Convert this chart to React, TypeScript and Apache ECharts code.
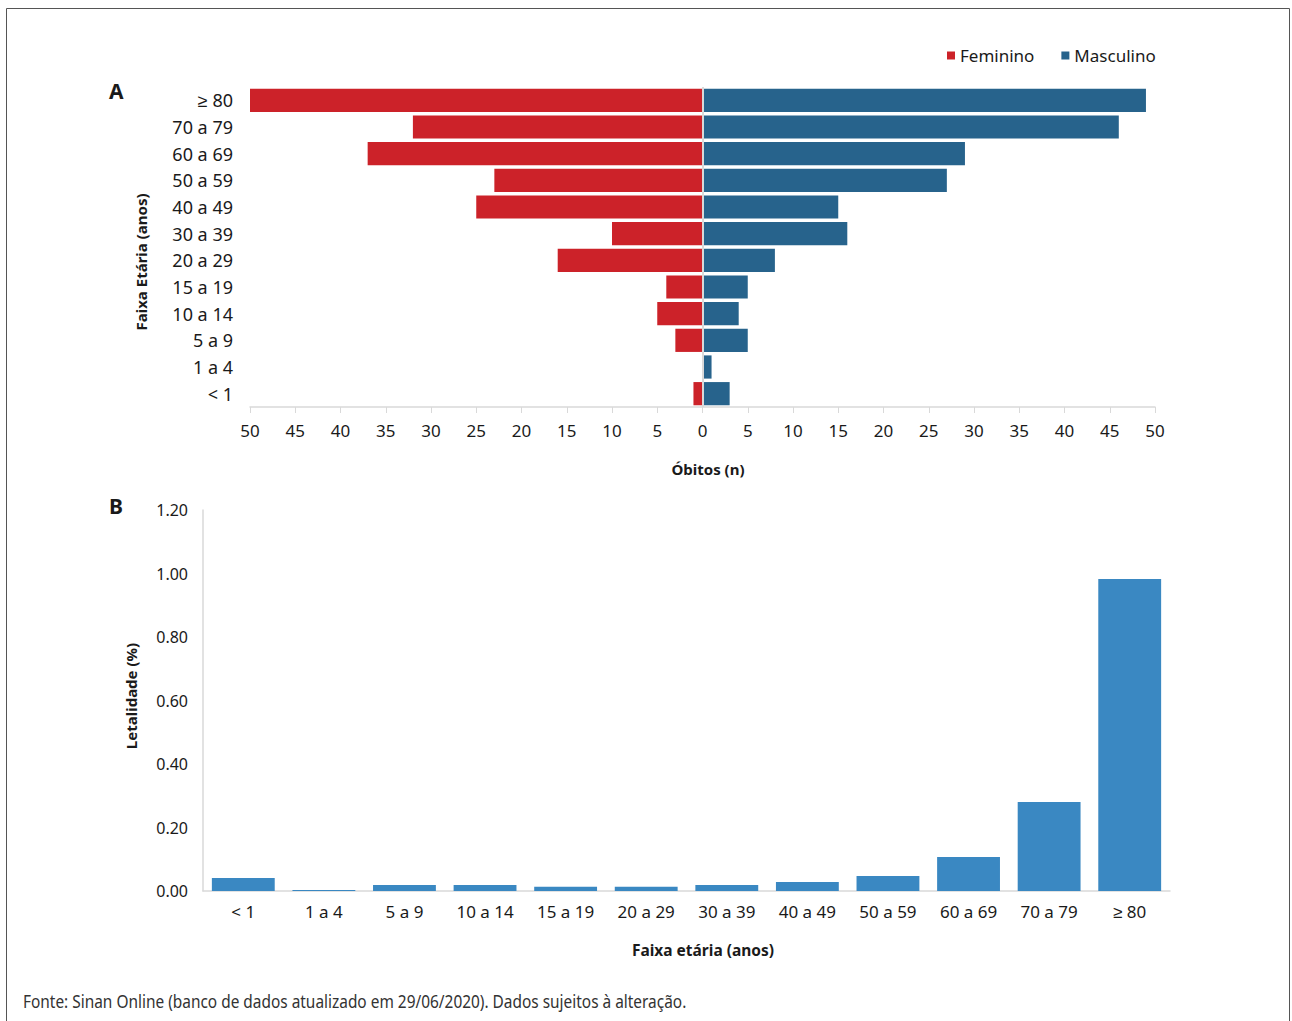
import React, { useEffect, useRef } from "react";
import * as echarts from "echarts";

const ageGroups = ["< 1", "1 a 4", "5 a 9", "10 a 14", "15 a 19", "20 a 29", "30 a 39", "40 a 49", "50 a 59", "60 a 69", "70 a 79", "≥ 80"];
const femaleDeaths = [1, 0, 3, 5, 4, 16, 10, 25, 23, 37, 32, 50];
const maleDeaths = [3, 1, 5, 4, 5, 8, 16, 15, 27, 29, 46, 49];
const lethality = [0.041, 0.003, 0.019, 0.019, 0.013, 0.013, 0.019, 0.028, 0.047, 0.107, 0.28, 0.983];

const RED = "#CC2229";
const DARKBLUE = "#27638C";
const LIGHTBLUE = "#3A88C2";
const AXIS = "#d9d9d9";
const TXT = "#1a1a1a";
const FONT = "'Noto Sans', sans-serif";

export default function App() {
  const ref = useRef<HTMLDivElement>(null);
  useEffect(() => {
    if (!ref.current) return;
    const chart = echarts.init(ref.current, undefined, { renderer: "svg" });
    const nameStyle = { fontSize: 15, fontWeight: "bold", fill: TXT, fontFamily: FONT };
    chart.setOption({
      animation: false,
      backgroundColor: "#ffffff",
      textStyle: { fontFamily: FONT, color: TXT },
      legend: {
        data: ["Feminino", "Masculino"],
        left: 942,
        top: 42,
        itemWidth: 8,
        itemHeight: 8,
        itemGap: 27,
        icon: "rect",
        textStyle: { fontSize: 17, color: TXT, fontFamily: FONT },
      },
      grid: [
        { left: 250, right: 137, top: 87, height: 320 },
        { left: 203, right: 122, top: 510, bottom: 130 },
      ],
      xAxis: [
        {
          gridIndex: 0,
          type: "value",
          min: -50,
          max: 50,
          interval: 5,
          axisLine: { show: true, lineStyle: { color: AXIS, width: 1.5 } },
          axisTick: { show: true, length: 6, lineStyle: { color: AXIS } },
          splitLine: { show: false },
          axisLabel: {
            formatter: (v: number) => String(Math.abs(v)),
            fontSize: 17,
            color: TXT,
            margin: 15,
            fontFamily: FONT,
          },
        },
        {
          gridIndex: 1,
          type: "category",
          data: ageGroups,
          axisLine: { show: true, lineStyle: { color: AXIS, width: 1.5 } },
          axisTick: { show: false },
          axisLabel: { fontSize: 17, color: TXT, margin: 12, fontFamily: FONT, interval: 0 },
        },
      ],
      yAxis: [
        {
          gridIndex: 0,
          type: "category",
          data: ageGroups,
          axisLine: { show: false },
          axisTick: { show: false },
          axisLabel: { fontSize: 18, color: TXT, margin: 17, fontFamily: FONT },
        },
        {
          gridIndex: 1,
          type: "value",
          min: 0,
          max: 1.2,
          interval: 0.2,
          axisLine: { show: true, lineStyle: { color: AXIS, width: 1.5 } },
          axisTick: { show: false },
          splitLine: { show: false },
          axisLabel: {
            formatter: (v: number) => v.toFixed(2),
            fontSize: 16,
            color: TXT,
            margin: 15,
            fontFamily: FONT,
          },
        },
      ],
      series: [
        {
          name: "Feminino",
          type: "bar",
          xAxisIndex: 0,
          yAxisIndex: 0,
          stack: "total",
          barCategoryGap: "13%",
          data: femaleDeaths.map((v) => -v),
          itemStyle: { color: RED },
          markLine: {
            symbol: "none",
            silent: true,
            label: { show: false },
            lineStyle: { color: AXIS, width: 2, type: "solid" },
            data: [{ xAxis: 0 }],
          },
        },
        {
          name: "Masculino",
          type: "bar",
          xAxisIndex: 0,
          yAxisIndex: 0,
          stack: "total",
          barCategoryGap: "13%",
          data: maleDeaths,
          itemStyle: { color: DARKBLUE },
        },
        {
          name: "Letalidade",
          type: "bar",
          xAxisIndex: 1,
          yAxisIndex: 1,
          barCategoryGap: "22%",
          data: lethality,
          itemStyle: { color: LIGHTBLUE },
        },
      ],
      graphic: [
        {
          type: "rect",
          shape: { x: 6.5, y: 8.5, width: 1283, height: 1030 },
          style: { fill: "none", stroke: "#555555", lineWidth: 1 },
          silent: true,
        },
        {
          type: "text",
          left: 109,
          top: 80,
          style: { text: "A", fontSize: 21, fontWeight: "bold", fill: TXT, fontFamily: FONT },
        },
        {
          type: "text",
          left: 109,
          top: 495,
          style: { text: "B", fontSize: 21, fontWeight: "bold", fill: TXT, fontFamily: FONT },
        },
        {
          type: "text",
          x: 708,
          y: 469,
          style: { ...nameStyle, text: "Óbitos (n)", align: "center", verticalAlign: "middle" },
        },
        {
          type: "text",
          x: 141,
          y: 262,
          rotation: Math.PI / 2,
          style: { ...nameStyle, text: "Faixa Etária (anos)", align: "center", verticalAlign: "middle" },
        },
        {
          type: "text",
          x: 703,
          y: 950,
          style: { ...nameStyle, fontSize: 15.5, text: "Faixa etária (anos)", align: "center", verticalAlign: "middle" },
        },
        {
          type: "text",
          x: 131,
          y: 696,
          rotation: Math.PI / 2,
          style: { ...nameStyle, text: "Letalidade (%)", align: "center", verticalAlign: "middle" },
        },
        {
          type: "text",
          x: 23,
          y: 1001,
          scaleX: 0.857,
          style: {
            text: "Fonte: Sinan Online (banco de dados atualizado em 29/06/2020). Dados sujeitos à alteração.",
            fontSize: 18,
            fill: "#333333",
            fontFamily: FONT,
            align: "left",
            verticalAlign: "middle",
          },
        },
      ],
    });
    return () => chart.dispose();
  }, []);
  return (
    <div
      ref={ref}
      style={{ position: "absolute", left: 0, top: 0, width: 1292, height: 1021 }}
    />
  );
}
